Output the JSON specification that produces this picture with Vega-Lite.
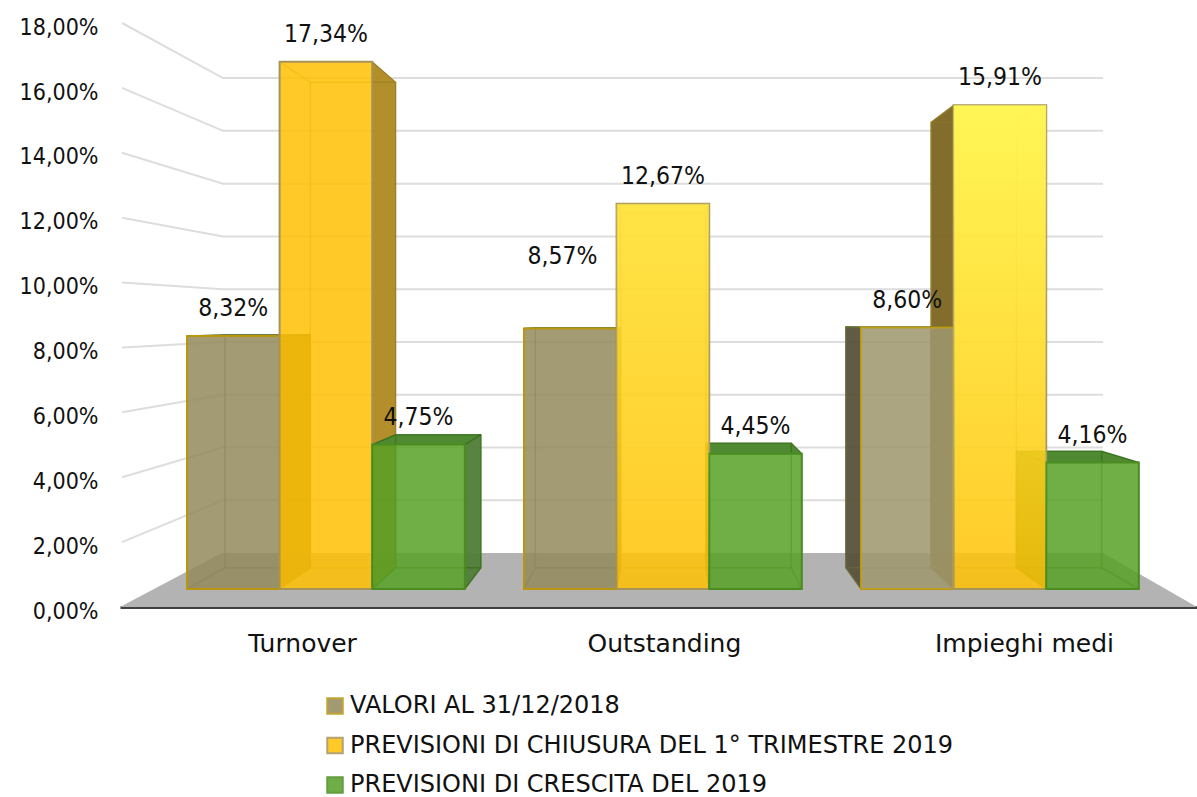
{
"$schema":"https://vega.github.io/schema/vega-lite/v6.json",
"autosize":"none",
"padding":{"left":120,"top":23,"right":0,"bottom":190},
"width":1077,"height":584,
"background":"white",
"config":{"view":{"stroke":null},"font":"DejaVu Sans Condensed"},
"datasets":{
"bars":[
{"category":"Turnover","series":"VALORI AL 31/12/2018","value":8.32},
{"category":"Turnover","series":"PREVISIONI DI CHIUSURA DEL 1° TRIMESTRE 2019","value":17.34},
{"category":"Turnover","series":"PREVISIONI DI CRESCITA DEL 2019","value":4.75},
{"category":"Outstanding","series":"VALORI AL 31/12/2018","value":8.57},
{"category":"Outstanding","series":"PREVISIONI DI CHIUSURA DEL 1° TRIMESTRE 2019","value":12.67},
{"category":"Outstanding","series":"PREVISIONI DI CRESCITA DEL 2019","value":4.45},
{"category":"Impieghi medi","series":"VALORI AL 31/12/2018","value":8.60},
{"category":"Impieghi medi","series":"PREVISIONI DI CHIUSURA DEL 1° TRIMESTRE 2019","value":15.91},
{"category":"Impieghi medi","series":"PREVISIONI DI CRESCITA DEL 2019","value":4.16}
],
"ticks":[{"tick":2},{"tick":4},{"tick":6},{"tick":8},{"tick":10},{"tick":12},{"tick":14},{"tick":16},{"tick":18}],
"floor":[{"tick":0}]
},
"data":{"name":"bars"},
"transform":[
{"calculate":"indexof(['Turnover','Outstanding','Impieghi medi'],datum.category)","as":"g"},
{"calculate":"indexof(['VALORI AL 31/12/2018','PREVISIONI DI CHIUSURA DEL 1° TRIMESTRE 2019','PREVISIONI DI CRESCITA DEL 2019'],datum.series)","as":"s"},
{"calculate":"0.1866+0.9387*datum.g+0.258*datum.s","as":"xfL"},
{"calculate":"datum.xfL+0.258","as":"xfR"},
{"calculate":"1.5265+(datum.xfL-1.5265)*0.921","as":"xbL"},
{"calculate":"1.5265+(datum.xfR-1.5265)*0.921","as":"xbR"},
{"calculate":"0.555","as":"uFb"},
{"calculate":"0.555+0.937*datum.value","as":"uFt"},
{"calculate":"8.845+(datum.uFb-8.845)*0.921","as":"uBb"},
{"calculate":"8.845+(datum.uFt-8.845)*0.921","as":"uBt"}
],
"encoding":{
"x":{"type":"quantitative","scale":{"domain":[0,3],"nice":false,"zero":false}},
"y":{"type":"quantitative","scale":{"domain":[0,18],"nice":false}}
},
"layer":[
{"data":{"name":"floor"},
 "transform":[
 {"calculate":"[0,1,2,3]","as":"t"},{"flatten":["t"]},
 {"calculate":"[0,0.284,2.738,3][datum.t]","as":"fx"},
 {"calculate":"[0,1.664,1.664,0][datum.t]","as":"fy"}],
 "mark":{"type":"area","color":"#B3B3B3"},
 "encoding":{
  "x":{"field":"fx","type":"quantitative","title":null,
   "axis":{"values":[0.507,1.515,2.518],"grid":false,"ticks":false,"domain":true,"domainColor":"#404040","domainWidth":3,"labelFontSize":25,"labelColor":"#111111","labelPadding":24,"labelFont":"DejaVu Sans","labelFlush":false,"labelOverlap":false,"title":null,
   "labelExpr":"datum.value<1?'Turnover':datum.value<2?'Outstanding':'Impieghi medi'"}},
  "y":{"field":"fy","type":"quantitative","title":null,
   "axis":{"values":[0,2,4,6,8,10,12,14,16,18],"grid":false,"ticks":false,"domain":false,"labelFontSize":23,"labelColor":"#111111","labelPadding":22,"labelOffset":4.2,"labelFont":"DejaVu Sans Condensed","title":null,
   "labelExpr":"replace(format(datum.value,'.2f'),'.',',')+'%'"}},
  "y2":{"datum":0}
 }},
{"data":{"name":"ticks"},
 "transform":[
 {"calculate":"[0,1,2]","as":"t"},{"flatten":["t"]},
 {"calculate":"[0.0056,0.2869,2.738][datum.t]","as":"lx"},
 {"calculate":"datum.t==0?datum.tick:1.664+0.8132*datum.tick","as":"ly"}],
 "mark":{"type":"line","color":"#DDDDDD","strokeWidth":2},
 "encoding":{
  "x":{"field":"lx","type":"quantitative"},
  "y":{"field":"ly","type":"quantitative"},
  "detail":{"field":"tick"}
 }},
{"transform":[
 {"calculate":"['R','L']","as":"face"},{"flatten":["face"]},
 {"filter":"datum.face=='R'?datum.xfR<datum.xbR:datum.xbL<datum.xfL"},
 {"calculate":"[0,1]","as":"t"},{"flatten":["t"]},
 {"calculate":"datum.face=='R'?(datum.t==0?datum.xfR:datum.xbR):(datum.t==0?datum.xfL:datum.xbL)","as":"sx"},
 {"calculate":"datum.t==0?datum.uFb:datum.uBb","as":"sy"},
 {"calculate":"datum.t==0?datum.uFt:datum.uBt","as":"sy2"},
 {"calculate":"datum.g+'-'+datum.s+'-'+datum.face","as":"key"}],
 "mark":{"type":"area","strokeWidth":1,"opacity":0.95},
 "encoding":{
  "x":{"field":"sx","type":"quantitative"},
  "y":{"field":"sy","type":"quantitative"},
  "y2":{"field":"sy2"},
  "detail":{"field":"key"},
  "fill":{"condition":[
    {"test":"datum.s==0&&datum.face=='L'","value":"#58533A"},
    {"test":"datum.s==0","value":"#7A7045"},
    {"test":"datum.s==1&&datum.face=='L'","value":"#7D6622"},
    {"test":"datum.s==1","value":"#AE8A1F"}],
    "value":"#4F7F37"},
  "stroke":{"condition":[
    {"test":"datum.s==0","value":"#6F6838"},
    {"test":"datum.s==1","value":"#9A8030"}],
    "value":"#4A7A2F"}
 }},
{"transform":[
 {"filter":"datum.uBt>datum.uFt"},
 {"calculate":"[0,1,2,3]","as":"t"},{"flatten":["t"]},
 {"calculate":"[datum.xfL,datum.xfR,datum.xbL,datum.xbR][datum.t]","as":"tx"},
 {"calculate":"(datum.tx<datum.xbL||datum.tx>datum.xbR)?datum.uFt:datum.uBt","as":"ty"},
 {"calculate":"(datum.tx<datum.xfL||datum.tx>datum.xfR)?datum.uBt:datum.uFt","as":"ty2"},
 {"calculate":"datum.g+'-'+datum.s","as":"key"}],
 "mark":{"type":"area","fill":"#4F8A33","stroke":"#4A7A2F","strokeWidth":1},
 "encoding":{
  "x":{"field":"tx","type":"quantitative"},
  "y":{"field":"ty","type":"quantitative"},
  "y2":{"field":"ty2"},
  "detail":{"field":"key"}
 }},
{"mark":{"type":"rect","fillOpacity":0,"strokeWidth":1.5,"strokeOpacity":0.55},
 "encoding":{
  "x":{"field":"xbL","type":"quantitative"},"x2":{"field":"xbR"},
  "y":{"field":"uBb","type":"quantitative"},"y2":{"field":"uBt"},
  "stroke":{"condition":[{"test":"datum.s==0","value":"#6F6838"},{"test":"datum.s==1","value":"#8F7A20"}],"value":"#2F6A10"}
 }},
{"transform":[
 {"calculate":"[0,1,2,3]","as":"c"},{"flatten":["c"]},
 {"calculate":"datum.c%2==0?datum.xfL:datum.xfR","as":"ex"},
 {"calculate":"datum.c%2==0?datum.xbL:datum.xbR","as":"ex2"},
 {"calculate":"datum.c<2?datum.uFb:datum.uFt","as":"ey"},
 {"calculate":"datum.c<2?datum.uBb:datum.uBt","as":"ey2"}],
 "mark":{"type":"rule","strokeWidth":1.5,"strokeOpacity":0.55},
 "encoding":{
  "x":{"field":"ex","type":"quantitative"},"x2":{"field":"ex2"},
  "y":{"field":"ey","type":"quantitative"},"y2":{"field":"ey2"},
  "stroke":{"condition":[{"test":"datum.s==0","value":"#6F6838"},{"test":"datum.s==1","value":"#8F7A20"}],"value":"#2F6A10"}
 }},
{"mark":{"type":"rect","fillOpacity":0.85,"strokeWidth":2},
 "encoding":{
  "x":{"field":"xfL","type":"quantitative"},"x2":{"field":"xfR"},
  "y":{"field":"uFb","type":"quantitative"},"y2":{"field":"uFt"},
  "fill":{"field":"series","type":"nominal",
   "scale":{"domain":["VALORI AL 31/12/2018","PREVISIONI DI CHIUSURA DEL 1° TRIMESTRE 2019","PREVISIONI DI CRESCITA DEL 2019"],"range":["#92895A","#FFC102","#57A026"]},
   "legend":{"title":null,"orient":"none","legendX":203,"legendY":671,"symbolType":"square","symbolSize":240,"symbolStrokeWidth":2,"symbolOpacity":0.85,"labelFontSize":24,"labelColor":"#111111","labelFont":"DejaVu Sans","rowPadding":15.5,"labelOffset":3,"labelLimit":700}},
  "stroke":{"field":"series","type":"nominal",
   "scale":{"domain":["VALORI AL 31/12/2018","PREVISIONI DI CHIUSURA DEL 1° TRIMESTRE 2019","PREVISIONI DI CRESCITA DEL 2019"],"range":["#B8960E","#A6935A","#4A8C1F"]},
   "legend":{"title":null,"orient":"none","legendX":203,"legendY":671,"symbolType":"square","symbolSize":240,"symbolStrokeWidth":2,"symbolOpacity":0.85,"labelFontSize":24,"labelColor":"#111111","labelFont":"DejaVu Sans","rowPadding":15.5,"labelOffset":3,"labelLimit":700}}
 }},
{"transform":[{"filter":"datum.g==2&&datum.s==1"}],
 "mark":{"type":"rect","color":{"gradient":"linear","x1":0,"y1":0,"x2":0,"y2":1,"stops":[{"offset":0,"color":"rgba(255,250,90,0.9)"},{"offset":1,"color":"rgba(255,250,90,0)"}]}},
 "encoding":{
  "x":{"field":"xfL","type":"quantitative"},"x2":{"field":"xfR"},
  "y":{"field":"uFb","type":"quantitative"},"y2":{"field":"uFt"}
 }},
{"transform":[{"filter":"datum.g==1&&datum.s==1"}],
 "mark":{"type":"rect","color":{"gradient":"linear","x1":0,"y1":0,"x2":0,"y2":1,"stops":[{"offset":0,"color":"rgba(255,245,90,0.6)"},{"offset":1,"color":"rgba(255,245,90,0)"}]}},
 "encoding":{
  "x":{"field":"xfL","type":"quantitative"},"x2":{"field":"xfR"},
  "y":{"field":"uFb","type":"quantitative"},"y2":{"field":"uFt"}
 }},
{"transform":[{"filter":"datum.g==2&&datum.s==0"}],
 "mark":{"type":"rect","color":"white","opacity":0.1},
 "encoding":{
  "x":{"field":"xfL","type":"quantitative"},"x2":{"field":"xfR"},
  "y":{"field":"uFb","type":"quantitative"},"y2":{"field":"uFt"}
 }},
{"transform":[
 {"calculate":"datum.uFt+(datum.value==8.57?71:27)/32.45","as":"ly"},
 {"calculate":"(datum.xfL+datum.xfR)/2+(datum.value==8.57?-0.022:0)","as":"lx"},
 {"calculate":"replace(format(datum.value,'.2f'),'.',',')+'%'","as":"label"}],
 "mark":{"type":"text","fontSize":24.5,"color":"#111111","font":"DejaVu Sans Condensed","baseline":"middle","align":"center"},
 "encoding":{
  "x":{"field":"lx","type":"quantitative"},
  "y":{"field":"ly","type":"quantitative"},
  "text":{"field":"label","type":"nominal"}
 }}
]
}
